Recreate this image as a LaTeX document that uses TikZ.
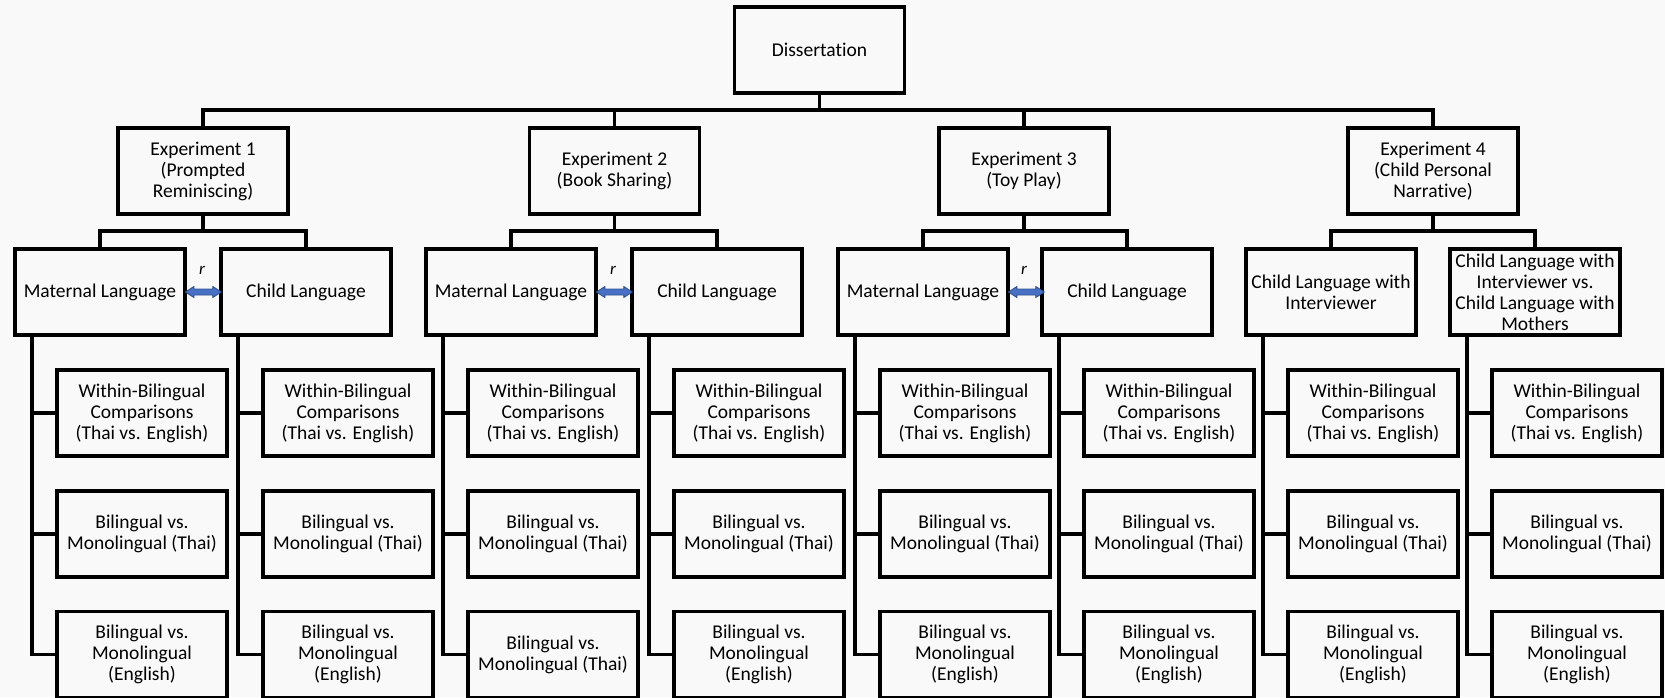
\documentclass[tikz,border=0pt]{standalone}
\usepackage{fontspec}
\setmainfont{Carlito}[Ligatures=NoCommon]
\usetikzlibrary{calc}
\definecolor{bg}{RGB}{249,249,249}
\definecolor{arrfill}{RGB}{72,112,196}
\definecolor{arrdraw}{RGB}{47,82,143}
\begin{document}
\begin{tikzpicture}[x=1pt,y=-1pt,
  box/.style={draw, line width=3.7pt, minimum width=170pt, minimum height=86pt, inner sep=0pt, align=center, font=\fontsize{19.5}{21}\selectfont},
  conn/.style={line width=3.2pt},
  dblarrow/.style={fill=arrfill, draw=arrdraw, line width=0.8pt, line join=miter},
  rlab/.style={font=\fontsize{17}{17}\selectfont\itshape, inner sep=0pt}]
\fill[bg] (0,0) rectangle (1665,697);
\useasboundingbox (0,0) rectangle (1665,697);

% top levels
\node[box] (diss) at (819.5,50) {Dissertation};
\node[box] (e1) at (203,171) {Experiment 1\\(Prompted\\Reminiscing)};
\node[box] (e2) at (614.5,171) {Experiment 2\\(Book Sharing)};
\node[box] (e3) at (1024,171) {Experiment 3\\(Toy Play)};
\node[box] (e4) at (1433,171) {Experiment 4\\(Child Personal\\Narrative)};

% language level
\node[box] (l1) at (100,292) {Maternal Language};
\node[box] (l2) at (306,292) {Child Language};
\node[box] (l3) at (511,292) {Maternal Language};
\node[box] (l4) at (717,292) {Child Language};
\node[box] (l5) at (923,292) {Maternal Language};
\node[box] (l6) at (1127,292) {Child Language};
\node[box] (l7) at (1331,292) {Child Language with\\Interviewer};
\node[box] (l8) at (1535,292) {Child Language with\\Interviewer vs.\\Child Language with\\Mothers};

% comparison rows
\foreach \i/\xc in {1/142,2/348,3/553,4/759,5/965,6/1169,7/1373,8/1577}{
  \node[box] (a\i) at (\xc,413) {Within-Bilingual\\Comparisons\\(Thai vs. English)};
  \node[box] (b\i) at (\xc,534) {Bilingual vs.\\Monolingual (Thai)};
}
\foreach \i/\xc in {1/142,2/348,4/759,5/965,6/1169,7/1373,8/1577}{
  \node[box] (c\i) at (\xc,654.5) {Bilingual vs.\\Monolingual\\(English)};
}
\node[box] (c3) at (553,654.5) {Bilingual vs.\\Monolingual (Thai)};

% connectors top
\coordinate (bus) at (0,110);
\draw[conn] (diss.south) -- (diss.south |- bus);
\draw[conn] (e1.north) -- (e1.north |- bus) -- (e4.north |- bus) -- (e4.north);
\draw[conn] (e2.north) -- (e2.north |- bus);
\draw[conn] (e3.north) -- (e3.north |- bus);

% connectors experiment -> language
\coordinate (sb) at (0,231);
\foreach \e/\p/\q in {1/1/2,2/3/4,3/5/6,4/7/8}{
  \draw[conn] (e\e.south) -- (e\e.south |- sb);
  \draw[conn] (l\p.north) -- (l\p.north |- sb) -- (l\q.north |- sb) -- (l\q.north);
}

% trunks
\foreach \i in {1,...,8}{
  \coordinate (t\i) at ([xshift=-68pt]l\i.south);
  \draw[conn] (t\i) |- (c\i.west);
  \draw[conn] (t\i |- a\i.west) -- (a\i.west);
  \draw[conn] (t\i |- b\i.west) -- (b\i.west);
}

% correlation arrows
\foreach \p/\q in {1/2,3/4,5/6}{
  \filldraw[dblarrow, shift={(l\p.east)}] (-1.5,0) -- (7,-5.5) -- (7,-3) -- (26,-3) -- (26,-5.5) -- (34.5,0) -- (26,5.5) -- (26,3) -- (7,3) -- (7,5.5) -- cycle;
  \node[rlab] (r\p) at ($(l\p.east)!0.5!(l\q.west)+(-1,-22)$) {r};
}
\end{tikzpicture}
\end{document}
